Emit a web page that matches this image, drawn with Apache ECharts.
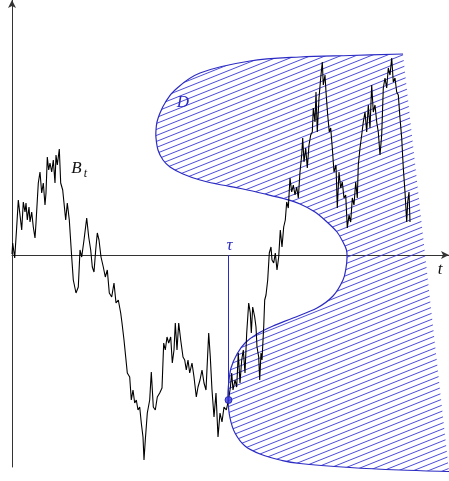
<!DOCTYPE html>
<html>
<head>
<meta charset="utf-8">
<script src="https://cdn.jsdelivr.net/npm/echarts@6/dist/echarts.min.js"></script>
<style>
  html, body { margin: 0; padding: 0; background: #fff; }
  #chart { width: 449px; height: 481px; }
</style>
</head>
<body>
<div id="chart"></div>
<script>
// Sample path B_t (time, value)
const pathT = [0.000,0.007,0.027,0.047,0.063,0.080,0.097,0.113,0.130,0.140,0.153,0.170,0.180,0.197,0.213,0.230,0.240,0.263,0.280,0.297,0.313,0.330,0.340,0.353,0.367,0.380,0.397,0.413,0.430,0.440,0.453,0.473,0.487,0.507,0.520,0.537,0.553,0.573,0.597,0.613,0.640,0.663,0.680,0.697,0.720,0.747,0.767,0.787,0.803,0.820,0.837,0.853,0.870,0.890,0.913,0.933,0.953,0.973,0.997,1.020,1.040,1.063,1.087,
  1.100,1.120,1.153,1.177,1.193,1.210,1.227,1.243,1.260,1.277,1.293,1.310,1.320,1.333,1.353,1.377,1.393,1.413,1.433,1.453,1.477,1.500,1.517,1.533,1.550,1.567,1.587,1.603,1.620,1.633,1.650,1.667,1.687,1.710,1.727,1.743,1.760,1.777,1.800,1.820,1.843,1.860,1.880,1.900,1.920,1.940,1.967,1.983,2.000,2.020,2.040,2.060,2.080,2.100,2.120,2.143,2.165,
  2.183,2.197,2.210,2.230,2.247,2.263,2.280,2.297,2.313,2.330,2.347,2.367,2.383,2.393,2.407,2.427,2.440,2.450,2.467,2.477,2.490,2.500,2.517,2.527,2.540,2.557,2.573,2.590,2.600,2.617,2.633,2.650,2.667,2.683,2.700,2.717,2.733,2.747,2.763,2.780,2.797,2.813,2.830,2.847,2.863,2.880,2.897,2.907,2.920,2.937,2.953,2.970,2.987,3.003,3.013,3.030,3.040,3.053,3.070,3.087,3.103,3.113,3.130,3.140,3.157,3.173,3.187,3.203,3.220,3.240,3.253,3.270,3.287,3.303,3.320,3.337,3.353,3.370,3.387,3.403,3.420,3.437,3.453,3.463,3.480,3.497,3.513,3.530,3.547,3.563,3.580,3.597,3.613,3.630,3.647,3.663,3.680,3.697,3.713,3.730,3.747,3.763,3.780,3.797,3.813,3.830,3.847,3.863,3.880,3.897,3.913,3.930,3.947,3.957,3.970,3.980];
const pathB = [0.01,0.12,-0.03,0.28,0.55,0.56,0.25,0.53,0.43,0.52,0.35,0.48,0.33,0.43,0.28,0.17,0.32,0.72,0.83,0.62,0.72,0.50,0.62,0.98,0.85,0.92,0.83,0.95,0.72,1.00,0.90,1.06,0.72,0.65,0.52,0.35,0.52,0.35,-0.02,-0.25,-0.38,-0.32,0.05,-0.02,0.15,0.37,0.18,0.05,-0.12,-0.17,0.05,0.22,0.15,-0.02,-0.12,-0.22,-0.15,-0.38,-0.42,-0.28,-0.48,-0.45,-0.58,
  -0.68,-0.85,-1.18,-1.22,-1.45,-1.35,-1.48,-1.45,-1.55,-1.52,-1.68,-1.82,-2.05,-1.85,-1.58,-1.45,-1.17,-1.52,-1.55,-1.42,-1.38,-1.33,-0.88,-0.95,-0.82,-0.88,-0.82,-1.08,-0.95,-0.68,-0.95,-0.68,-0.85,-1.02,-1.05,-1.15,-1.05,-1.18,-1.08,-1.22,-1.42,-1.32,-1.25,-1.15,-1.28,-1.35,-0.78,-1.02,-1.35,-1.62,-1.38,-1.82,-1.58,-1.67,-1.52,-1.55,-1.45,
  -1.33,-1.18,-1.35,-1.25,-1.32,-0.98,-1.28,-1.05,-0.95,-1.18,-0.78,-0.48,-0.58,-0.78,-0.52,-0.62,-0.72,-0.92,-1.02,-1.25,-0.98,-1.05,-0.72,-0.45,-0.40,-0.25,0.02,0.08,-0.05,-0.08,0.02,-0.15,-0.02,0.25,0.08,0.28,0.35,0.53,0.47,0.77,0.63,0.70,0.60,0.68,0.57,0.83,1.00,1.17,0.93,1.07,0.87,1.10,1.20,1.23,1.47,1.33,1.63,1.23,1.57,1.77,1.93,1.70,1.80,1.63,1.40,1.23,1.27,1.07,0.83,0.90,0.47,0.83,0.67,0.73,0.57,0.60,0.27,0.40,0.33,0.57,0.50,0.73,0.57,0.90,1.07,1.20,1.33,1.43,1.23,1.50,1.27,1.70,1.43,1.50,1.33,1.23,1.00,1.20,1.67,1.77,1.67,1.87,1.80,1.97,1.73,1.77,1.63,1.60,1.37,1.17,0.87,0.63,0.33,0.53,0.63,0.33];

// Boundary of the domain D (traced from its upper tip round to its lower end)
const boundaryT = [3.91,3.38,2.88,2.38,1.88,1.63,1.53,1.48,1.45,1.44,1.44,1.46,1.51,1.58,1.71,1.88,2.05,2.31,2.53,2.73,2.88,3.03,3.15,3.25,3.31,3.345,3.35,3.34,3.31,3.21,3.05,2.81,2.61,2.45,2.33,2.25,2.19,2.165,2.16,2.18,2.23,2.33,2.48,2.68,2.88,3.38,3.88,4.37];
const boundaryB = [2.01,1.995,1.98,1.94,1.82,1.65,1.52,1.42,1.33,1.25,1.17,1.05,0.95,0.88,0.81,0.75,0.71,0.66,0.61,0.56,0.51,0.43,0.33,0.23,0.13,0.05,-0.03,-0.13,-0.25,-0.41,-0.53,-0.63,-0.71,-0.79,-0.88,-0.99,-1.13,-1.30,-1.45,-1.63,-1.78,-1.91,-1.99,-2.05,-2.085,-2.125,-2.15,-2.165];

// First exit time tau and the hitting value
const tauT = 2.165;
const tauB = -1.45;

// Text labels
const labelText = ['D', 'B', 'τ', 't'];
const labelT = [1.71, 0.645, 2.175, 4.28];
const labelB = [1.52, 0.86, 0.09, -0.15];

const blue = '#2b2bc4';
const serif = '"Liberation Serif", "DejaVu Serif", serif';

// Diagonal hatch tile
const tile = document.createElement('canvas');
tile.width = 15; tile.height = 6;
const tctx = tile.getContext('2d');
tctx.strokeStyle = 'rgba(55,55,215,0.9)';
tctx.lineWidth = 1;
for (let k = -1; k <= 1; k++) {
  tctx.beginPath();
  tctx.moveTo(-15, 12 + k * 6);
  tctx.lineTo(30, -6 + k * 6);
  tctx.stroke();
}
const hatch = { image: tile, repeat: 'repeat' };

// Smooth SVG path through pixel points (Catmull-Rom as cubic Béziers)
function smoothPath(pts, close) {
  const n = pts.length;
  const P = i => pts[Math.max(0, Math.min(n - 1, i))];
  let d = 'M' + pts[0][0] + ' ' + pts[0][1];
  for (let i = 0; i < n - 1; i++) {
    const p0 = P(i - 1), p1 = P(i), p2 = P(i + 1), p3 = P(i + 2);
    const c1 = [p1[0] + (p2[0] - p0[0]) / 6, p1[1] + (p2[1] - p0[1]) / 6];
    const c2 = [p2[0] - (p3[0] - p1[0]) / 6, p2[1] - (p3[1] - p1[1]) / 6];
    d += 'C' + c1[0] + ' ' + c1[1] + ' ' + c2[0] + ' ' + c2[1] + ' ' + p2[0] + ' ' + p2[1];
  }
  if (close) d += 'Z';
  return d;
}

const chart = echarts.init(document.getElementById('chart'), null, { renderer: 'canvas' });

const pathData = pathT.map((t, i) => [t, pathB[i]]);

chart.setOption({
  animation: false,
  grid: { left: 12, right: 0, top: 0, bottom: 14 },
  xAxis: {
    type: 'value', min: 0, max: 4.37,
    axisLine: { show: true, onZero: true, symbol: ['none', 'arrow'], symbolSize: [6, 8], lineStyle: { color: '#333', width: 1 } },
    axisTick: { show: false }, axisLabel: { show: false }, splitLine: { show: false }
  },
  yAxis: {
    type: 'value', min: -2.12, max: 2.55,
    axisLine: { show: true, onZero: true, symbol: ['none', 'arrow'], symbolSize: [6, 8], lineStyle: { color: '#333', width: 1 } },
    axisTick: { show: false }, axisLabel: { show: false }, splitLine: { show: false }
  },
  series: [
    {
      // hatched domain D with its boundary curve
      type: 'custom',
      clip: false,
      z: 1,
      data: [[0, 0]],
      renderItem: function (params, api) {
        const pts = boundaryT.map((t, i) => api.coord([t, boundaryB[i]]));
        return {
          type: 'group',
          children: [
            { type: 'path', shape: { pathData: smoothPath(pts, true) }, style: { fill: hatch, stroke: null } },
            { type: 'path', shape: { pathData: smoothPath(pts, false) }, style: { fill: null, stroke: blue, lineWidth: 1.2 } }
          ]
        };
      }
    },
    {
      type: 'line',
      z: 3,
      data: pathData,
      showSymbol: false,
      lineStyle: { color: '#000', width: 1.1 }
    },
    {
      // vertical marker at tau
      type: 'line',
      z: 4,
      data: [[tauT, 0], [tauT, tauB]],
      showSymbol: false,
      lineStyle: { color: blue, width: 1 }
    },
    {
      type: 'scatter',
      z: 5,
      data: [[tauT, tauB]],
      symbolSize: 7,
      itemStyle: { color: '#3a3ae6', borderColor: '#1c1ca0', borderWidth: 1 }
    },
    {
      type: 'custom',
      clip: false,
      z: 6,
      data: labelT.map((t, i) => [t, labelB[i]]),
      renderItem: function (params, api) {
        const i = params.dataIndex;
        const p = api.coord([labelT[i], labelB[i]]);
        const color = (i === 0 || i === 2) ? blue : '#111';
        const children = [{
          type: 'text',
          x: p[0], y: p[1],
          style: { text: labelText[i], fill: color, font: 'italic 17px ' + serif, align: 'center', verticalAlign: 'middle' }
        }];
        if (labelText[i] === 'B') {
          children.push({
            type: 'text',
            x: p[0] + 9, y: p[1] + 5,
            style: { text: 't', fill: color, font: 'italic 12px ' + serif, align: 'center', verticalAlign: 'middle' }
          });
        }
        return { type: 'group', children: children };
      }
    }
  ]
});
</script>
</body>
</html>
